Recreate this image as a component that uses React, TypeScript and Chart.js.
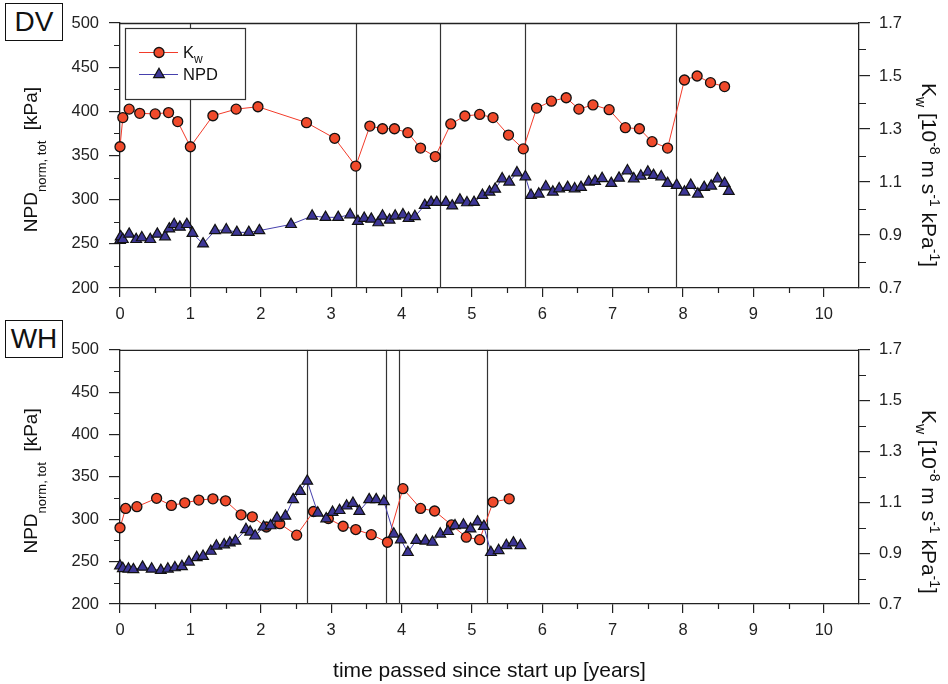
import React, { useEffect, useRef } from 'react';
import { Chart, registerables } from 'chart.js';

Chart.register(...registerables);

const FONT = '"Liberation Sans", Arial, Helvetica, sans-serif';

// ---- axis ticks ----
const xTicks = [0, 1, 2, 3, 4, 5, 6, 7, 8, 9, 10];
const xMinorTicks = [0.5, 1.5, 2.5, 3.5, 4.5, 5.5, 6.5, 7.5, 8.5, 9.5];
const npdTicks = [200, 250, 300, 350, 400, 450, 500];
const npdMinorTicks = [225, 275, 325, 375, 425, 475];
const kwTicks = [0.7, 0.9, 1.1, 1.3, 1.5, 1.7];
const kwMinorTicks = [0.8, 1.0, 1.2, 1.4, 1.6];

// ---- DV panel ----
const dvKwX = [0.0, 0.04, 0.13, 0.28, 0.5, 0.69, 0.82, 1.0, 1.32, 1.65, 1.96, 2.65, 3.05, 3.35, 3.55, 3.73, 3.9, 4.09, 4.27, 4.48, 4.7, 4.9, 5.11, 5.3, 5.52, 5.73, 5.92, 6.13, 6.34, 6.52, 6.72, 6.95, 7.18, 7.38, 7.56, 7.78, 8.02, 8.2, 8.39, 8.59];
const dvKw = [1.233, 1.343, 1.375, 1.359, 1.357, 1.362, 1.328, 1.233, 1.35, 1.375, 1.384, 1.324, 1.265, 1.16, 1.311, 1.301, 1.301, 1.286, 1.228, 1.196, 1.319, 1.349, 1.355, 1.343, 1.277, 1.225, 1.379, 1.405, 1.418, 1.375, 1.391, 1.373, 1.305, 1.301, 1.252, 1.228, 1.485, 1.5, 1.475, 1.46];
const dvNpdX = [0.0, 0.01, 0.04, 0.13, 0.23, 0.31, 0.43, 0.53, 0.64, 0.7, 0.77, 0.85, 0.95, 1.03, 1.18, 1.35, 1.51, 1.66, 1.83, 1.98, 2.43, 2.73, 2.92, 3.1, 3.27, 3.38, 3.47, 3.57, 3.67, 3.73, 3.83, 3.91, 4.02, 4.1, 4.19, 4.33, 4.42, 4.5, 4.63, 4.72, 4.83, 4.93, 5.03, 5.15, 5.25, 5.33, 5.43, 5.53, 5.64, 5.76, 5.84, 5.95, 6.05, 6.15, 6.24, 6.36, 6.46, 6.55, 6.66, 6.75, 6.85, 6.98, 7.09, 7.21, 7.3, 7.4, 7.5, 7.58, 7.69, 7.78, 7.91, 8.02, 8.11, 8.21, 8.3, 8.4, 8.49, 8.59, 8.65];
const dvNpd = [254, 258, 255, 261, 255, 257, 255, 261, 258, 267, 272, 269, 272, 262, 250, 265, 266, 263, 263, 265, 272, 281.5, 280, 280, 283, 275.5, 279, 278, 274, 281.5, 277, 281.5, 283, 279, 281, 293.6, 297, 297, 297, 293, 299.6, 296.6, 297, 305, 308.7, 312, 323.7, 320, 330.5, 326, 305, 306.4, 314.7, 308.7, 312.4, 314, 312.4, 314, 320, 320.8, 324, 318.5, 324.5, 332.8, 323.7, 326.8, 331.3, 327.6, 326, 318.5, 316.3, 308.7, 316.3, 306.4, 314, 315.5, 323.7, 318.5, 309.5];
const dvEvents = [1.0, 3.35, 4.55, 5.75, 7.9];

// ---- WH panel ----
const whKwX = [0.0, 0.08, 0.24, 0.52, 0.73, 0.92, 1.12, 1.32, 1.5, 1.72, 1.88, 2.08, 2.27, 2.51, 2.75, 2.96, 3.17, 3.35, 3.57, 3.8, 4.02, 4.27, 4.47, 4.71, 4.92, 5.11, 5.3, 5.53];
const whKw = [1.0, 1.076, 1.083, 1.116, 1.088, 1.098, 1.109, 1.114, 1.106, 1.051, 1.043, 1.003, 1.016, 0.971, 1.064, 1.036, 1.006, 0.993, 0.973, 0.943, 1.154, 1.076, 1.066, 1.011, 0.963, 0.953, 1.101, 1.114];
const whNpdX = [0.0, 0.04, 0.12, 0.19, 0.32, 0.45, 0.58, 0.68, 0.78, 0.88, 0.98, 1.09, 1.18, 1.29, 1.37, 1.48, 1.56, 1.64, 1.79, 1.85, 1.92, 2.04, 2.14, 2.23, 2.35, 2.46, 2.56, 2.66, 2.81, 2.93, 3.02, 3.12, 3.22, 3.31, 3.4, 3.54, 3.64, 3.75, 3.89, 3.99, 4.09, 4.21, 4.34, 4.44, 4.55, 4.66, 4.76, 4.88, 4.98, 5.08, 5.17, 5.27, 5.38, 5.49, 5.59, 5.69];
const whNpd = [245, 242, 241.4, 240.6, 243.6, 241.4, 239.8, 241.4, 242.9, 244.3, 249.6, 254.9, 256.4, 262.4, 268.5, 270, 272.2, 274.4, 288, 285, 280.4, 291, 292.5, 301.5, 303.8, 323.3, 333, 345.1, 307.5, 300.7, 308.3, 310.5, 315.8, 319, 309.5, 323.3, 323.3, 321, 282.7, 275.9, 260.9, 275.2, 274.4, 273, 282.7, 285.7, 292.5, 293.3, 288.8, 297, 291.7, 260.9, 263.2, 269.1, 272.2, 269.1];
const whEvents = [2.65, 3.78, 3.96, 5.21];

// ---- styles ----
const KW_FILL = '#f04a2b';
const KW_LINE = '#f23b2a';
const NPD_FILL = '#3d3696';
const NPD_LINE = '#4640ad';
const AXIS = '#222222';

type Part = { t: string; k?: 'sub' | 'sup' };

function drawRich(ctx: CanvasRenderingContext2D, parts: Part[], x: number, y: number, size: number, small: number, subOff: number, supOff: number, align: 'left' | 'center') {
  const widths = parts.map((p) => {
    ctx.font = `${p.k ? small : size}px ${FONT}`;
    return ctx.measureText(p.t).width;
  });
  const total = widths.reduce((a, b) => a + b, 0);
  let cx = align === 'center' ? x - total / 2 : x;
  ctx.textBaseline = 'alphabetic';
  ctx.textAlign = 'left';
  parts.forEach((p, i) => {
    ctx.font = `${p.k ? small : size}px ${FONT}`;
    const dy = p.k === 'sub' ? subOff : p.k === 'sup' ? -supOff : 0;
    ctx.fillText(p.t, cx, y + dy);
    cx += widths[i];
  });
}

const leftTitle: Part[] = [{ t: 'NPD' }, { t: 'norm, tot', k: 'sub' }, { t: '  [kPa]' }];
const rightTitle: Part[] = [
  { t: 'K' }, { t: 'w', k: 'sub' }, { t: ' [10' }, { t: '-8', k: 'sup' }, { t: ' m s' }, { t: '-1', k: 'sup' }, { t: ' kPa' }, { t: '-1', k: 'sup' }, { t: ']' },
];

function makeDecor(events: number[], showLegend: boolean, showXTitle: boolean) {
  return {
    id: 'decor',
    beforeDatasetsDraw(chart: any) {
      const { ctx, chartArea, scales } = chart;
      ctx.save();
      ctx.strokeStyle = '#333';
      ctx.lineWidth = 1.2;
      events.forEach((v) => {
        const px = Math.round(scales.x.getPixelForValue(v)) + 0.5;
        ctx.beginPath();
        ctx.moveTo(px, chartArea.top);
        ctx.lineTo(px, chartArea.bottom);
        ctx.stroke();
      });
      // top frame
      ctx.strokeStyle = AXIS;
      ctx.lineWidth = 1.3;
      ctx.beginPath();
      ctx.moveTo(chartArea.left, chartArea.top + 0.5);
      ctx.lineTo(chartArea.right, chartArea.top + 0.5);
      ctx.stroke();
      // minor ticks
      ctx.lineWidth = 1.2;
      ctx.beginPath();
      xMinorTicks.forEach((v) => {
        const px = Math.round(scales.x.getPixelForValue(v)) + 0.5;
        ctx.moveTo(px, chartArea.bottom);
        ctx.lineTo(px, chartArea.bottom + 5);
      });
      npdMinorTicks.forEach((v) => {
        const py = Math.round(scales.y.getPixelForValue(v)) + 0.5;
        ctx.moveTo(chartArea.left, py);
        ctx.lineTo(chartArea.left - 6, py);
      });
      kwMinorTicks.forEach((v) => {
        const py = Math.round(scales.y1.getPixelForValue(v)) + 0.5;
        ctx.moveTo(chartArea.right, py);
        ctx.lineTo(chartArea.right + 7, py);
      });
      ctx.stroke();
      ctx.restore();
    },
    afterDraw(chart: any) {
      const { ctx, chartArea } = chart;
      ctx.save();
      ctx.fillStyle = '#111';
      // left title
      const cy = (chartArea.top + chartArea.bottom) / 2 + 4;
      ctx.save();
      ctx.translate(37, cy);
      ctx.rotate(-Math.PI / 2);
      drawRich(ctx, leftTitle, 0, 0, 19, 13, 9, 0, 'center');
      ctx.restore();
      // right title
      ctx.save();
      ctx.translate(922, chartArea.top + 60);
      ctx.rotate(Math.PI / 2);
      drawRich(ctx, rightTitle, 0, 0, 21, 14, 6, 8, 'left');
      ctx.restore();

      if (showLegend) {
        const bx = 125, by = 28, bw = 120, bh = 71;
        ctx.fillStyle = '#fff';
        ctx.fillRect(bx, by, bw, bh);
        ctx.strokeStyle = '#333';
        ctx.lineWidth = 1.2;
        ctx.strokeRect(bx + 0.5, by + 0.5, bw, bh);
        // row 1 Kw
        ctx.strokeStyle = KW_LINE;
        ctx.lineWidth = 1;
        ctx.beginPath();
        ctx.moveTo(139, 52.5);
        ctx.lineTo(178, 52.5);
        ctx.stroke();
        ctx.fillStyle = KW_FILL;
        ctx.strokeStyle = '#111';
        ctx.lineWidth = 1.3;
        ctx.beginPath();
        ctx.arc(159, 52.5, 5, 0, Math.PI * 2);
        ctx.fill();
        ctx.stroke();
        // row 2 NPD
        ctx.strokeStyle = NPD_LINE;
        ctx.lineWidth = 1;
        ctx.beginPath();
        ctx.moveTo(139, 74.5);
        ctx.lineTo(178, 74.5);
        ctx.stroke();
        ctx.fillStyle = NPD_FILL;
        ctx.strokeStyle = '#111';
        ctx.lineWidth = 1.2;
        const r = 6.2;
        ctx.beginPath();
        ctx.moveTo(159, 74.5 - r);
        ctx.lineTo(159 + r * Math.sin((2 * Math.PI) / 3), 74.5 + r / 2);
        ctx.lineTo(159 - r * Math.sin((2 * Math.PI) / 3), 74.5 + r / 2);
        ctx.closePath();
        ctx.fill();
        ctx.stroke();
        ctx.fillStyle = '#111';
        drawRich(ctx, [{ t: 'K' }, { t: 'w', k: 'sub' }], 183, 58.3, 16.5, 12, 4.5, 0, 'left');
        drawRich(ctx, [{ t: 'NPD' }], 183, 80.3, 16.5, 12, 0, 0, 'left');
      }

      if (showXTitle) {
        ctx.fillStyle = '#111';
        ctx.font = `21px ${FONT}`;
        ctx.textAlign = 'center';
        ctx.textBaseline = 'alphabetic';
        ctx.fillText('time passed since start up [years]', (chartArea.left + chartArea.right) / 2, 347);
      }
      ctx.restore();
    },
  };
}

function makeConfig(kwX: number[], kwY: number[], npdX: number[], npdY: number[], events: number[], padTop: number, xHeight: number, showLegend: boolean, showXTitle: boolean): any {
  const tickFont = { family: FONT, size: 16.5 };
  const gridBase = { display: true, drawOnChartArea: false, drawTicks: true, color: AXIS, tickColor: AXIS, lineWidth: 1.2 };
  const border = { display: true, color: AXIS, width: 1.3 };
  return {
    type: 'line',
    data: {
      datasets: [
        {
          label: 'NPD',
          data: npdX.map((x, i) => ({ x, y: npdY[i] })),
          yAxisID: 'y',
          borderColor: NPD_LINE,
          borderWidth: 1,
          backgroundColor: NPD_FILL,
          pointStyle: 'triangle',
          pointRadius: 6.2,
          pointBorderWidth: 1.2,
          pointBorderColor: '#111',
          pointBackgroundColor: NPD_FILL,
          tension: 0,
          clip: false,
        },
        {
          label: 'Kw',
          data: kwX.map((x, i) => ({ x, y: kwY[i] })),
          yAxisID: 'y1',
          borderColor: KW_LINE,
          borderWidth: 1,
          backgroundColor: KW_FILL,
          pointStyle: 'circle',
          pointRadius: 5,
          pointBorderWidth: 1.3,
          pointBorderColor: '#111',
          pointBackgroundColor: KW_FILL,
          tension: 0,
          clip: false,
        },
      ],
    },
    options: {
      animation: false,
      responsive: false,
      maintainAspectRatio: false,
      events: [],
      layout: { padding: { top: padTop, left: 0, right: 0, bottom: 0 } },
      plugins: { legend: { display: false }, tooltip: { enabled: false }, title: { display: false } },
      scales: {
        x: {
          type: 'linear',
          position: 'bottom',
          min: 0,
          max: 10.5,
          afterBuildTicks: (s: any) => { s.ticks = xTicks.map((v) => ({ value: v })); },
          afterFit: (s: any) => { s.height = xHeight; },
          grid: { ...gridBase, tickLength: 9 },
          border,
          ticks: { font: tickFont, color: '#222', padding: 7.5, maxRotation: 0, autoSkip: false, callback: (v: any) => String(v) },
        },
        y: {
          type: 'linear',
          position: 'left',
          min: 200,
          max: 500,
          afterBuildTicks: (s: any) => { s.ticks = npdTicks.map((v) => ({ value: v })); },
          afterFit: (s: any) => { s.width = 120; },
          grid: { ...gridBase, tickLength: 11 },
          border,
          ticks: { font: tickFont, color: '#222', padding: 10, callback: (v: any) => String(v) },
        },
        y1: {
          type: 'linear',
          position: 'right',
          min: 0.7,
          max: 1.7,
          afterBuildTicks: (s: any) => { s.ticks = kwTicks.map((v) => ({ value: v })); },
          afterFit: (s: any) => { s.width = 89; },
          grid: { ...gridBase, tickLength: 11 },
          border,
          ticks: { font: tickFont, color: '#222', padding: 9, callback: (v: any) => Number(v).toFixed(1) },
        },
      },
    },
    plugins: [makeDecor(events, showLegend, showXTitle)],
  };
}

const boxStyle: React.CSSProperties = {
  position: 'absolute',
  left: 5,
  width: 56,
  height: 36,
  border: '1.5px solid #111',
  background: '#fff',
  fontFamily: FONT,
  fontSize: 28,
  lineHeight: '36px',
  textAlign: 'center',
  color: '#111',
};

export default function App() {
  const topRef = useRef<HTMLCanvasElement>(null);
  const botRef = useRef<HTMLCanvasElement>(null);

  useEffect(() => {
    const c1 = new Chart(topRef.current as HTMLCanvasElement, makeConfig(dvKwX, dvKw, dvNpdX, dvNpd, dvEvents, 23, 42, true, false));
    const c2 = new Chart(botRef.current as HTMLCanvasElement, makeConfig(whKwX, whKw, whNpdX, whNpd, whEvents, 9, 80, false, true));
    return () => {
      c1.destroy();
      c2.destroy();
    };
  }, []);

  return (
    <div style={{ position: 'absolute', left: 0, top: 0, width: 948, height: 684, background: '#fff', overflow: 'hidden' }}>
      <canvas ref={topRef} width={948} height={330} style={{ position: 'absolute', left: 0, top: 0, width: 948, height: 330 }} />
      <canvas ref={botRef} width={948} height={354} style={{ position: 'absolute', left: 0, top: 330, width: 948, height: 354 }} />
      <div style={{ ...boxStyle, top: 3 }}>DV</div>
      <div style={{ ...boxStyle, top: 320 }}>WH</div>
    </div>
  );
}
